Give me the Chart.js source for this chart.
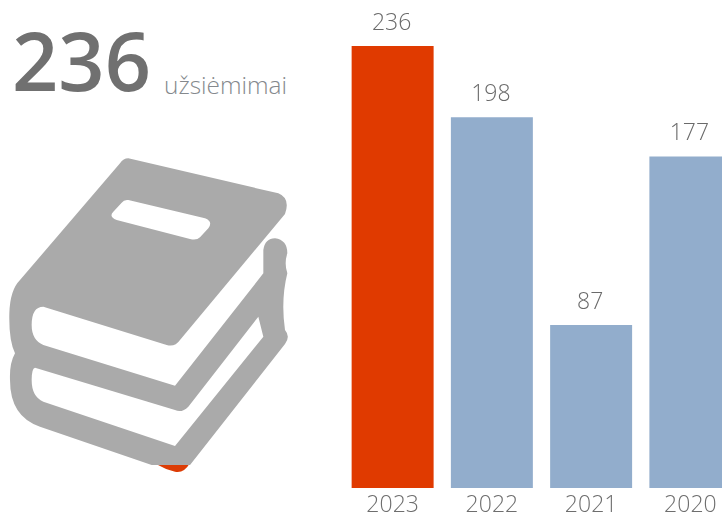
<!DOCTYPE html>
<html lang="lt">
<head>
<meta charset="utf-8">
<title>236 užsiėmimai</title>
<script src="https://cdn.jsdelivr.net/npm/chart.js@4/dist/chart.umd.min.js"></script>
<style>
html,body{margin:0;padding:0;width:722px;height:518px;overflow:hidden;background:#fff}
#stage{position:relative;width:722px;height:518px;overflow:hidden;font-family:"Open Sans",sans-serif}
#big{position:absolute;left:12px;top:7px;font-size:81px;line-height:106px;font-weight:600;color:#707070;letter-spacing:0}
#unit{position:absolute;left:164px;top:68px;font-size:24.4px;line-height:34px;font-weight:300;color:#85898d}
#book{position:absolute;left:0;top:140px}
#wrap{position:absolute;left:342.5px;top:0;width:397px;height:518px}
</style>
</head>
<body>
<div id="stage">
  <div id="big">236</div>
  <div id="unit">užsiėmimai</div>
  <svg id="book" width="310" height="340" viewBox="0 0 930 1020" aria-hidden="true">
    <path fill="#dc3c05" d="M468 972 L568 972 Q552 1000 525 995 Q495 988 468 972 Z"/>
    <path fill="#aaaaaa" fill-rule="evenodd" d="M385 55 L835 160 Q872 175 855 222 L540 600 Q525 622 500 615 L130 500 Q95 500 95 555 Q95 600 130 615 L525 737 L790 400 L790 330 Q795 295 825 295 Q862 300 862 340 Q852 370 862 400 Q842 480 855 570 Q872 590 855 612 L570 975 L455 975 L120 860 Q30 830 30 720 Q28 670 45 640 Q26 600 28 520 Q30 450 60 420 L360 70 Q370 55 385 55 Z
    M105 683 L525 810 Q545 820 565 800 L775 530 L790 590 L525 918 L130 785 Q95 770 95 720 Q95 685 105 683 Z
    M385 180 L615 235 Q640 245 625 265 L600 292 Q590 302 570 297 L350 240 Q325 230 340 215 L365 188 Q372 178 385 180 Z"/>
  </svg>
  <div id="wrap"><canvas id="c" width="397" height="518"></canvas></div>
</div>
<script>
const categories = ["2023", "2022", "2021", "2020"];
const values = [236, 198, 87, 177];
const barColors = ["#e03a00", "#92adcc", "#92adcc", "#92adcc"];

const valueLabels = {
  id: "valueLabels",
  afterDatasetsDraw(chart) {
    const ctx = chart.ctx, meta = chart.getDatasetMeta(0);
    ctx.save();
    ctx.font = "300 23px 'Open Sans', sans-serif";
    ctx.fillStyle = "#6a6a6a";
    ctx.textAlign = "center";
    ctx.textBaseline = "middle";
    meta.data.forEach((bar, i) => ctx.fillText(String(values[i]), bar.x - 1, bar.y - 23));
    ctx.restore();
  }
};

new Chart(document.getElementById("c"), {
  type: "bar",
  data: {
    labels: categories,
    datasets: [{ data: values, backgroundColor: barColors, borderWidth: 0, barPercentage: 1, categoryPercentage: 0.826 }]
  },
  options: {
    responsive: false,
    animation: false,
    layout: { padding: { top: 1, left: 0, right: 0, bottom: 0 } },
    plugins: { legend: { display: false }, tooltip: { enabled: false } },
    scales: {
      y: { display: false, min: 0, max: 260 },
      x: {
        afterFit(scale) { scale.height = 30; },
        grid: { display: false },
        border: { display: false },
        ticks: { color: "#6e6e6e", font: { family: "'Open Sans', sans-serif", size: 23, weight: "300" }, padding: -4, maxRotation: 0 }
      }
    }
  },
  plugins: [valueLabels]
});
</script>
</body>
</html>
